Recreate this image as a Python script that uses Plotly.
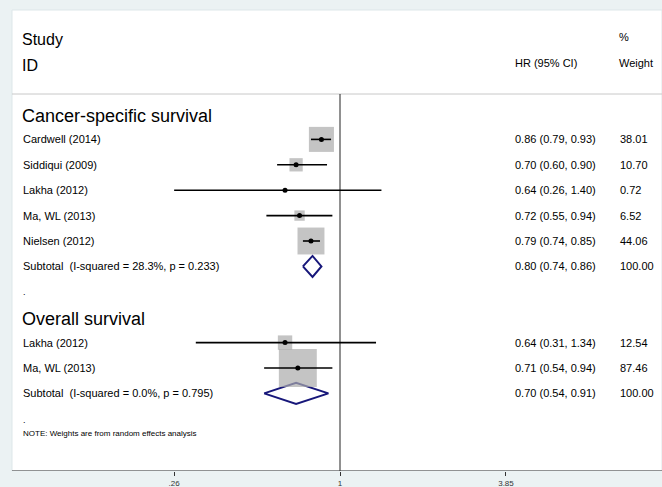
import math
import plotly.graph_objects as go

# ---- data -------------------------------------------------------------
cs_studies = ["Cardwell (2014)", "Siddiqui (2009)", "Lakha (2012)", "Ma, WL (2013)", "Nielsen (2012)"]
cs_hr = [0.86, 0.70, 0.64, 0.72, 0.79]
cs_lo = [0.79, 0.60, 0.26, 0.55, 0.74]
cs_hi = [0.93, 0.90, 1.40, 0.94, 0.85]
cs_weight = [38.01, 10.70, 0.72, 6.52, 44.06]
cs_subtotal = [0.80, 0.74, 0.86]
cs_subtotal_weight = 100.00
cs_subtotal_label = "Subtotal\u00a0 (I-squared = 28.3%, p = 0.233)"

os_studies = ["Lakha (2012)", "Ma, WL (2013)"]
os_hr = [0.64, 0.71]
os_lo = [0.31, 0.54]
os_hi = [1.34, 0.94]
os_weight = [12.54, 87.46]
os_subtotal = [0.70, 0.54, 0.91]
os_subtotal_weight = 100.00
os_subtotal_label = "Subtotal\u00a0 (I-squared = 0.0%, p = 0.795)"

tick_vals = [0.26, 1, 3.85]
tick_text = [".26", "1", "3.85"]

# ---- layout geometry (pixels) -----------------------------------------
W, H = 662, 487
AXIS_Y = 471           # bottom of plot region
FRAME_L, FRAME_T = 12, 10
HEADER_LINE_Y = 94
ROW0, ROW_STEP = 114.0, 25.4
BOX_K = 4.06           # box side (px) per sqrt(weight)
DIAMOND_H = 10.5
X_STUDY, X_HR, X_W = 21, 513, 618
FONT = "Liberation Sans, Arial, sans-serif"
GREY_BOX = "#ababab"
NAVY = "#17177a"


def row_y(i):
    return ROW0 + ROW_STEP * i


def px(x):
    return x / W


groups = [
    ("Cancer-specific survival", cs_studies, cs_hr, cs_lo, cs_hi, cs_weight,
     cs_subtotal, cs_subtotal_weight, cs_subtotal_label, 0),
    ("Overall survival", os_studies, os_hr, os_lo, os_hi, os_weight,
     os_subtotal, os_subtotal_weight, os_subtotal_label, 8),
]

fig = go.Figure()
annotations = []
shapes = []

# plot region panel
shapes.append(dict(type="rect", xref="paper", yref="y", x0=px(FRAME_L), x1=1.0,
                   y0=FRAME_T, y1=AXIS_Y, fillcolor="white",
                   line=dict(color="#dde7e9", width=1), layer="below"))
# header separator
shapes.append(dict(type="line", xref="paper", yref="y", x0=px(FRAME_L), x1=1.0,
                   y0=HEADER_LINE_Y, y1=HEADER_LINE_Y,
                   line=dict(color="#c8c8c8", width=1), layer="below"))
# line of no effect
shapes.append(dict(type="line", xref="x", yref="y", x0=1, x1=1,
                   y0=HEADER_LINE_Y, y1=AXIS_Y,
                   line=dict(color="#222222", width=1), layer="below"))
# x axis line
shapes.append(dict(type="line", xref="paper", yref="y", x0=px(FRAME_L), x1=1.0,
                   y0=AXIS_Y, y1=AXIS_Y, line=dict(color="#333333", width=1.2)))


def text(x, y, s, size=11, anchor="left"):
    annotations.append(dict(xref="paper", yref="y", x=px(x), y=y, text=s,
                            showarrow=False, xanchor=anchor, yanchor="middle",
                            font=dict(family=FONT, size=size, color="black")))


# column headers
text(X_STUDY - 1, 39, "Study", 16)
text(X_STUDY - 1, 65, "ID", 16)
text(X_HR, 63, "HR (95% CI)", 11)
text(X_W - 1, 37, "%", 11)
text(X_W - 1, 63, "Weight", 11)

box_x, box_y, box_s = [], [], []
ci_x, ci_y = [], []
dot_x, dot_y = [], []

for title, names, hr, lo, hi, wt, sub, sub_w, sub_label, start in groups:
    text(X_STUDY - 1, row_y(start) + 1.5, title, 18)
    for j, name in enumerate(names):
        y = row_y(start + 1 + j)
        text(X_STUDY, y, name)
        text(X_HR, y, f"{hr[j]:.2f} ({lo[j]:.2f}, {hi[j]:.2f})")
        text(X_W, y, f"{wt[j]:.2f}")
        box_x.append(hr[j]); box_y.append(y); box_s.append(BOX_K * math.sqrt(wt[j]))
        ci_x += [lo[j], hi[j], None]; ci_y += [y, y, None]
        dot_x.append(hr[j]); dot_y.append(y)
    ys = row_y(start + 1 + len(names))
    text(X_STUDY, ys, sub_label)
    text(X_HR, ys, f"{sub[0]:.2f} ({sub[1]:.2f}, {sub[2]:.2f})")
    text(X_W, ys, f"{sub_w:.2f}")
    fig.add_trace(go.Scatter(
        x=[sub[1], sub[0], sub[2], sub[0], sub[1]],
        y=[ys, ys - DIAMOND_H, ys, ys + DIAMOND_H, ys],
        mode="lines", fill="toself", fillcolor="white",
        line=dict(color=NAVY, width=2), hoverinfo="skip"))

# spacer rows and note
text(X_STUDY, row_y(7), ".", 9)
text(X_STUDY, row_y(12) + 1, ".", 9)
text(X_STUDY, 433, "NOTE: Weights are from random effects analysis", 8)

fig.add_trace(go.Scatter(x=box_x, y=box_y, mode="markers",
                         marker=dict(symbol="square", size=box_s, color=GREY_BOX,
                                     line=dict(width=0)), hoverinfo="skip"))
fig.add_trace(go.Scatter(x=ci_x, y=ci_y, mode="lines",
                         line=dict(color="black", width=1.6), hoverinfo="skip"))
fig.add_trace(go.Scatter(x=dot_x, y=dot_y, mode="markers",
                         marker=dict(symbol="circle", size=5, color="black"),
                         hoverinfo="skip"))

# log axis: 1 sits at x=340 px, 283.5 px per decade
PX_PER_DEC = 283.5
X_ONE = 340
fig.update_layout(
    width=W, height=H,
    margin=dict(l=0, r=0, t=0, b=0, autoexpand=False),
    paper_bgcolor="#ebf2f3",
    plot_bgcolor="rgba(0,0,0,0)",
    showlegend=False,
    shapes=shapes,
    annotations=annotations,
    xaxis=dict(type="log", domain=[0, 1], automargin=False,
               range=[-X_ONE / PX_PER_DEC, (W - X_ONE) / PX_PER_DEC],
               showgrid=False, zeroline=False, showline=False,
               ticks="outside", ticklen=4, tickcolor="#333333", tickwidth=1.2,
               tickvals=tick_vals, ticktext=tick_text, ticklabelstandoff=0,
               tickfont=dict(family=FONT, size=8, color="#333333"),
               fixedrange=True),
    yaxis=dict(domain=[(H - AXIS_Y) / H, 1], range=[AXIS_Y, 0], automargin=False,
               showgrid=False, zeroline=False, showline=False,
               showticklabels=False, ticks="", fixedrange=True),
)

fig.write_html("out.html")
